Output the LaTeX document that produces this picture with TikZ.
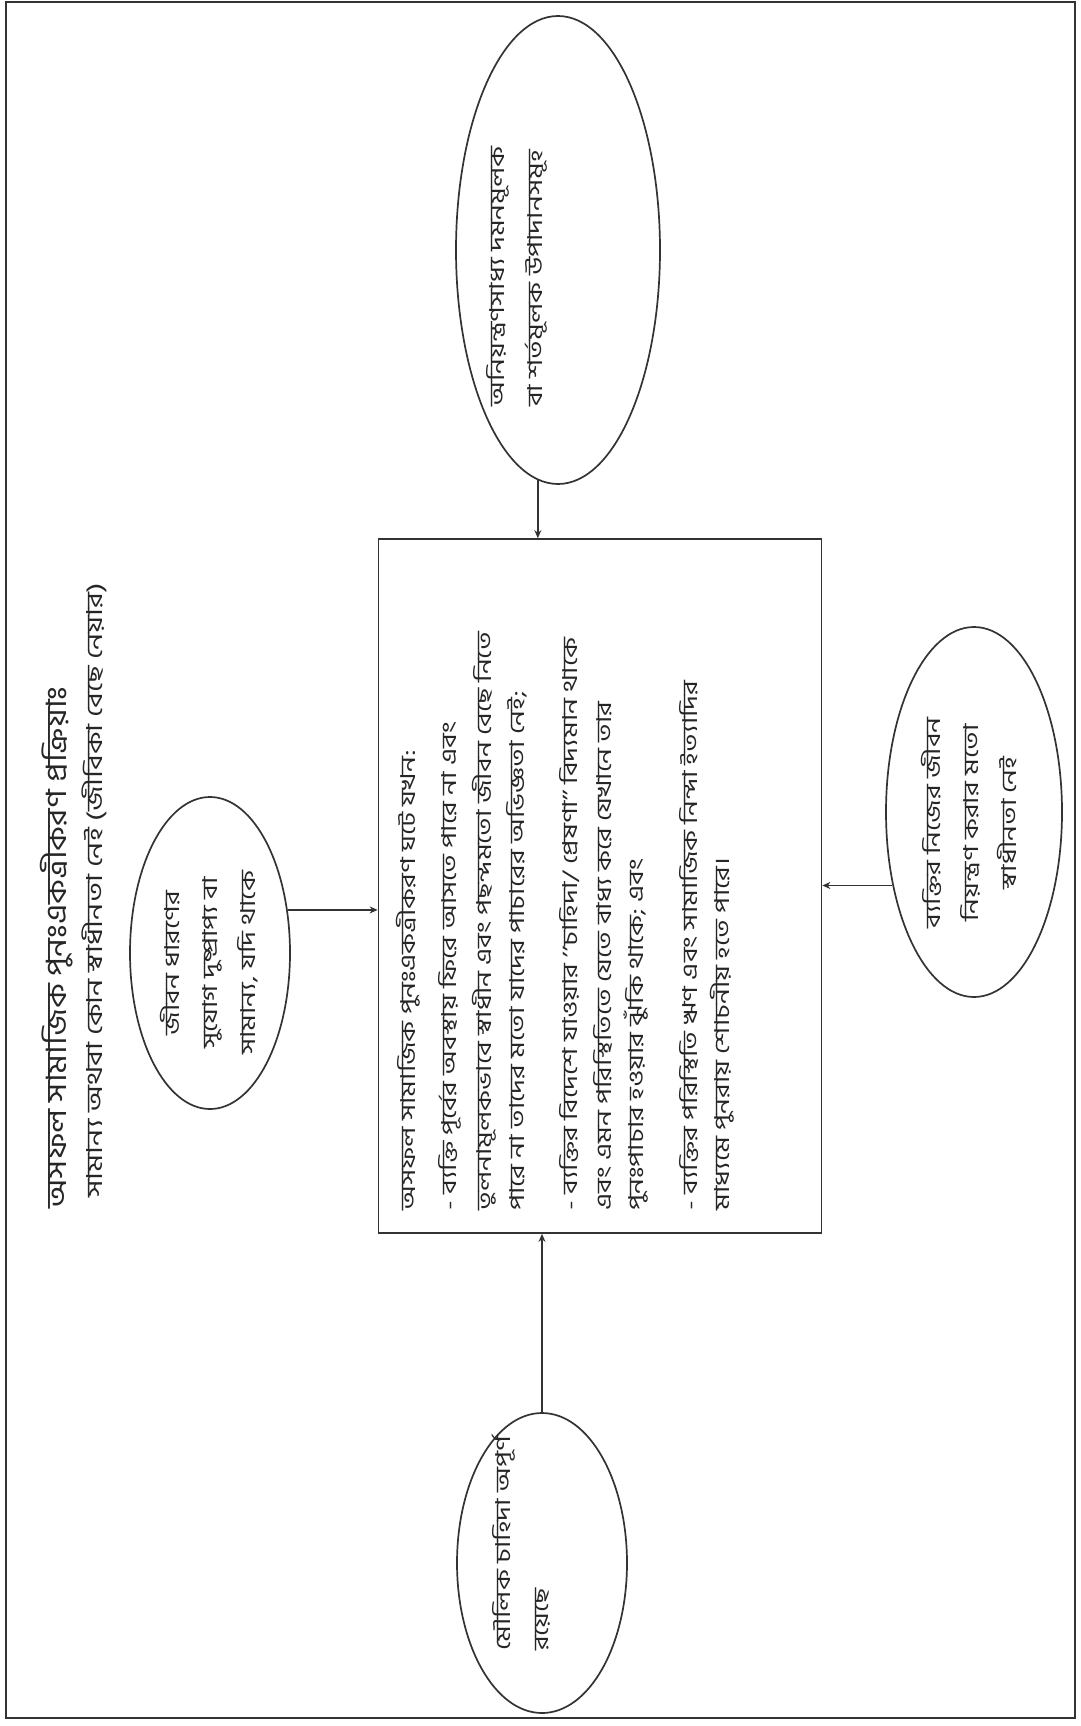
\documentclass[tikz,border=0pt]{standalone}
\usepackage{fontspec}
\newfontfamily\bn[Script=Bengali, FakeStretch=1.37]{Hind Siliguri}
\newfontfamily\bnt[Script=Bengali, FakeStretch=1.19]{Hind Siliguri}
\newfontfamily\bns[Script=Bengali, FakeStretch=1.38]{Hind Siliguri}
\usetikzlibrary{arrows.meta,shapes.geometric}
\begin{document}
\begin{tikzpicture}[x=1pt,y=-1pt,
  ink/.style={draw=black!80},
  frame/.style={ink, line width=1.5pt, inner sep=0pt},
  bubble/.style={ellipse, ink, line width=1.7pt, inner sep=0pt},
  mainbox/.style={rectangle, ink, line width=1.7pt, inner sep=0pt},
  vtxt/.style={rotate=90, inner sep=0pt, text=black!85},
  boxline/.style={vtxt, anchor=west, font=\bn\fontsize{20.5}{33}\selectfont},
  bubtxt/.style={vtxt, align=center, font=\bn\fontsize{20.5}{38}\selectfont},
  arr/.style={ink, line width=1.7pt, -{Stealth[length=8pt,width=7pt]}},
]
\useasboundingbox (0,0) rectangle (1081,1726);
\fill[white] (0,0) rectangle (1081,1726);

% outer frame
\node[frame, minimum width=1069pt, minimum height=1716pt] (outer) at (540.5,860) {};

% title
\node[vtxt, anchor=west, font=\bnt\fontsize{28}{32}\selectfont] (title) at (57,1209) {অসফল সামাজিক পুনঃএকত্রীকরণ প্রক্রিয়াঃ};
\node[vtxt, anchor=west, font=\bns\fontsize{22}{26}\selectfont] (subtitle) at (94,1198) {সামান্য অথবা কোন স্বাধীনতা নেই (জীবিকা বেছে নেয়ার)};

% main box
\node[mainbox, minimum width=443pt, minimum height=694pt] (box) at (600,886) {};
\node[boxline] (l1) at (408,1211) {অসফল সামাজিক পুনঃএকত্রীকরণ ঘটে যখন:};
\node[boxline] (l2) at (450,1211) {- ব্যক্তি পূর্বের অবস্থায় ফিরে আসতে পারে না এবং};
\node[boxline] (l3) at (484,1211) {তুলনামূলকভাবে স্বাধীন এবং পছন্দমতো জীবন বেছে নিতে};
\node[boxline] (l4) at (517,1211) {পারে না তাদের মতো যাদের পাচারের অভিজ্ঞতা নেই;};
\node[boxline] (l5) at (570,1211) {- ব্যক্তির বিদেশে যাওয়ার ’’চাহিদা/ প্রেষণা’’ বিদ্যমান থাকে};
\node[boxline] (l6) at (603,1211) {এবং এমন পরিস্থিতিতে যেতে বাধ্য করে যেখানে তার};
\node[boxline] (l7) at (636,1211) {পুনঃপাচার হওয়ার ঝুঁকি থাকে; এবং};
\node[boxline] (l8) at (689,1211) {- ব্যক্তির পরিস্থিতি ঋণ এবং সামাজিক নিন্দা ইত্যাদির};
\node[boxline] (l9) at (722,1211) {মাধ্যমে পুনরায় শোচনীয় হতে পারে।};

% ellipses
\node[bubble, minimum width=160pt, minimum height=312pt] (E1) at (210,953) {};
\node[bubtxt] (t1) at (209,963) {জীবন ধারণের\\সুযোগ দুষ্প্রাপ্য বা\\সামান্য, যদি থাকে};

\node[bubble, minimum width=204pt, minimum height=468pt] (E2) at (558,250) {};
\node[bubtxt, anchor=west, align=left] (t2) at (517,407) {অনিয়ন্ত্রণসাধ্য দমনমূলক\\বা শর্তমূলক উপাদানসমূহ};

\node[bubble, minimum width=170pt, minimum height=300pt] (E3) at (542,1563) {};
\node[bubtxt, anchor=west, align=left] (t3) at (521,1651) {মৌলিক চাহিদা অপূর্ণ\\রয়েছে};

\node[bubble, minimum width=176pt, minimum height=370pt] (E4) at (974,812) {};
\node[bubtxt] (t4) at (969,823) {ব্যক্তির নিজের জীবন\\নিয়ন্ত্রণ করার মতো\\স্বাধীনতা নেই};

% connectors
\draw[arr] (E1.29) -- (E1.29 -| box.west);
\draw[arr] (E2.265) -- (E2.265 |- box.north);
\draw[arr] (E3.north) -- (E3.north |- box.south);
\draw[arr] (E4.222) -- (E4.222 -| box.east);
\end{tikzpicture}
\end{document}
